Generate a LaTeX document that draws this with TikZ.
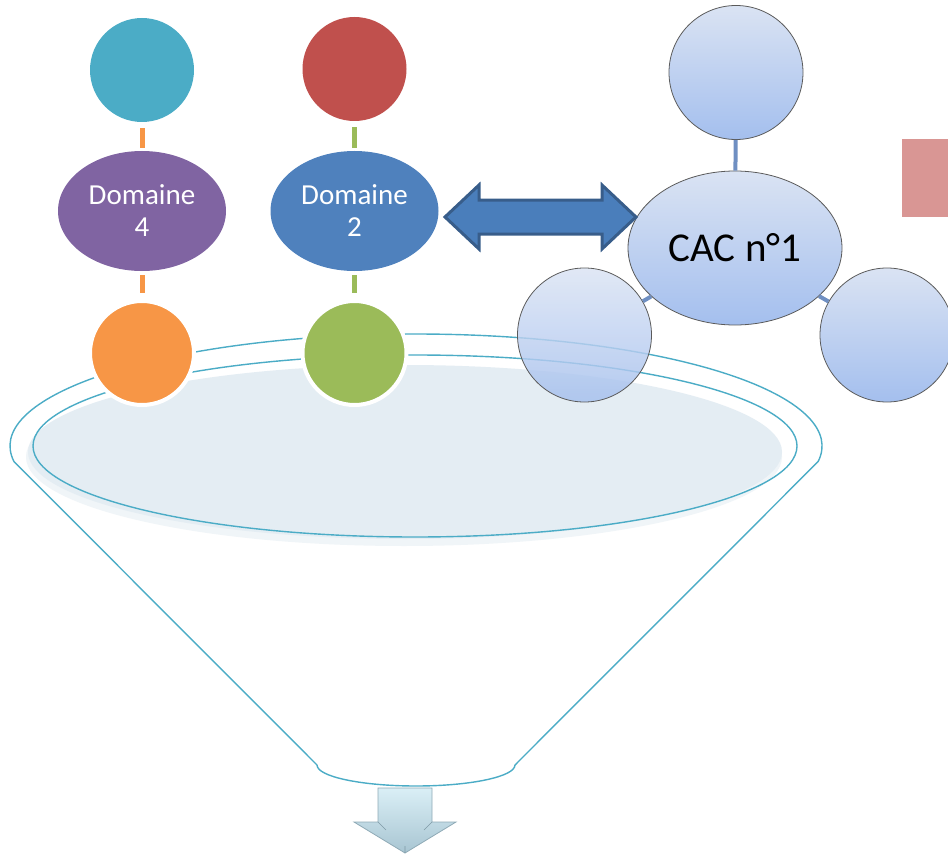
\documentclass[tikz,border=0pt]{standalone}
\usepackage{fontspec}
\setmainfont{Carlito}
\usetikzlibrary{shapes.geometric,calc}
\definecolor{cteal}{HTML}{4BACC6}
\definecolor{cred}{HTML}{C0504D}
\definecolor{cpurple}{HTML}{8064A2}
\definecolor{cblue}{HTML}{4F81BD}
\definecolor{corange}{HTML}{F79646}
\definecolor{cgreen}{HTML}{9BBB59}
\definecolor{funnelline}{HTML}{4BACC6}
\definecolor{funnelfill}{HTML}{E4EDF3}
\definecolor{funnelhalo}{HTML}{F0F5F8}
\definecolor{arrowfill}{HTML}{4A7EBB}
\definecolor{arrowedge}{HTML}{385D8A}
\definecolor{cactop}{HTML}{DAE3F3}
\definecolor{cacbot}{HTML}{A4BFEE}
\definecolor{cacedge}{HTML}{5A5A5A}
\definecolor{cacline}{HTML}{6F8FC2}
\definecolor{pinkbox}{HTML}{D99694}
\definecolor{darrtop}{HTML}{DAEFF6}
\definecolor{darrbot}{HTML}{A8C5D2}
\definecolor{darredge}{HTML}{8FAAB6}
\definecolor{darrdark}{HTML}{7F9AA6}
\tikzset{
  discnode/.style={circle, minimum size=104pt, inner sep=0pt},
  ringdisc/.style={discnode, draw=white, line width=4pt},
  dombox/.style={ellipse, minimum width=168pt, minimum height=120pt, inner sep=0pt,
     text=white, align=center, font=\fontsize{29}{32}\selectfont},
  linkbar/.style={line width=5pt, shorten <=6pt, shorten >=3pt},
  cacdisc/.style={circle, minimum size=134pt, inner sep=0pt, draw=cacedge, line width=0.8pt,
     top color=cactop, bottom color=cacbot},
  cacconn/.style={cacline, line width=4pt},
  funnelstroke/.style={draw=funnelline, line width=1.4pt},
}
\begin{document}
\begin{tikzpicture}[x=1pt,y=-1pt]
\useasboundingbox (0,0) rectangle (948,856);
\clip (0,0) rectangle (948,856);

% funnel
\draw[funnelstroke, fill=white] (14,461.6) arc[start angle=188,end angle=-8,x radius=406pt,y radius=112pt]
   -- (515,765) arc[start angle=0,end angle=-180,x radius=99pt,y radius=21pt] -- cycle;
\fill[funnelhalo] (404,457) ellipse[x radius=378pt, y radius=89pt];
\fill[funnelfill] (405,452) ellipse[x radius=377pt, y radius=87pt];
\draw[funnelstroke] (415,446) ellipse[x radius=382pt, y radius=91pt];

% down arrow
\draw[darredge, line width=0.8pt, line join=miter, top color=darrtop, bottom color=darrbot]
  (378,788) -- (432,788) -- (432,822) -- (456,822) -- (405,853) -- (354,822) -- (378,822) -- cycle;
\draw[darrdark, line width=0.6pt] (432,822) -- (424,830) (378,822) -- (386,830) (405,853) -- (405,846);

% left domains
\node[discnode, fill=cteal] (t4) at (142,70) {};
\node[dombox, fill=cpurple] (d4) at (142,211) {Domaine\\4};
\node[ringdisc, fill=corange] (b4) at (142,353) {};
\node[discnode, fill=cred] (t2) at (354.5,69) {};
\node[dombox, fill=cblue] (d2) at (354.5,211) {Domaine\\2};
\node[ringdisc, fill=cgreen] (b2) at (354.5,353) {};
\draw[linkbar, corange] (t4.south) -- (d4.north);
\draw[linkbar, corange, shorten <=4pt, shorten >=6pt] (d4.south) -- (b4.north);
\draw[linkbar, cgreen] (t2.south) -- (d2.north);
\draw[linkbar, cgreen, shorten <=4pt, shorten >=6pt] (d2.south) -- (b2.north);

% CAC cluster
\node[cacdisc] (ct) at (736,72.5) {};
\node[cacdisc] (cr) at (887,335) {};
\node[ellipse, minimum width=214pt, minimum height=154pt, inner sep=0pt, draw=cacedge, line width=0.8pt,
      top color=cactop, bottom color=cacbot, font=\fontsize{41}{45}\selectfont] (cac) at (735,248) {CAC n°1};
\node[cacdisc, fill opacity=0.82] (cl) at (584.5,335) {};
\draw[cacconn] (cac) -- (ct);
\draw[cacconn] (cac) -- (cl);
\draw[cacconn] (cac) -- (cr);

% pink box
\fill[pinkbox] (902,139) rectangle (960,217);

% double arrow between Domaine 2 and CAC
\coordinate (al) at (445,217);
\coordinate (ar) at (636,217);
\draw[arrowedge, fill=arrowfill, line width=3pt, line join=miter]
  (al) -- ++(34,-32) -- ++(0,15) -- ($(ar)+(-34,-17)$) -- ++(0,-15) -- (ar)
  -- ++(-34,32) -- ++(0,-15) -- ($(al)+(34,17)$) -- ++(0,15) -- cycle;
\end{tikzpicture}
\end{document}
